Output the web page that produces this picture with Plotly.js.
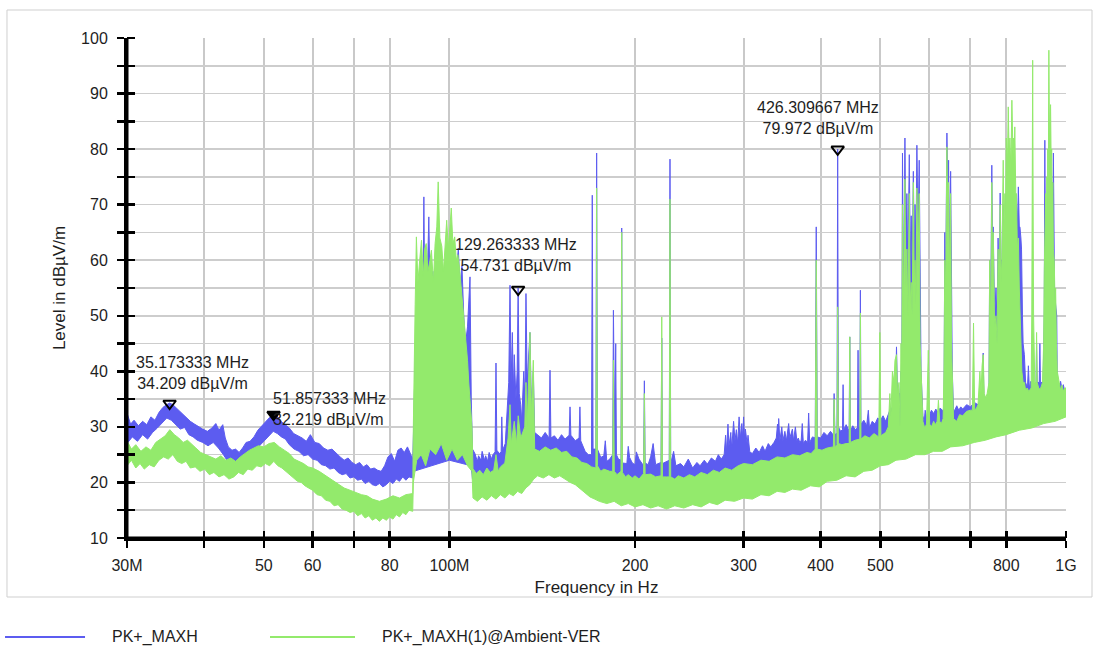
<!DOCTYPE html>
<html>
<head>
<meta charset="utf-8">
<script src="https://cdn.plot.ly/plotly-3.0.1.min.js"></script>
<style>html,body{margin:0;padding:0;background:#fff;}#chart{width:1099px;height:649px;}</style>
</head>
<body>
<div id="chart"></div>
<script>
// Frequencies in MHz, levels in dBµV/m
const blueUpper = [[30.0,32.5],[30.4,30.5],[30.8,31.2],[31.3,30.2],[31.8,31.0],[32.3,30.4],[32.8,31.8],[33.3,31.2],[33.8,32.6],[34.3,33.5],[34.8,34.0],[35.17,34.3],[35.6,34.0],[36.2,33.2],[36.8,32.5],[37.4,31.8],[38.0,31.0],[38.6,30.5],[39.2,30.0],[39.8,29.6],[40.5,29.2],[41.2,29.8],[41.8,30.6],[42.3,29.4],[42.9,30.4],[43.3,28.0],[43.8,26.4],[44.4,25.8],[45.0,26.0],[45.6,25.4],[46.2,26.2],[46.8,27.2],[47.5,27.4],[48.2,28.2],[48.9,29.4],[49.6,30.2],[50.3,30.8],[51.0,31.6],[51.86,32.3],[52.5,32.0],[53.3,31.0],[54.1,30.5],[55.0,29.8],[55.9,28.8],[56.8,28.4],[57.7,28.0],[58.6,27.4],[59.5,28.6],[60.5,27.2],[61.5,27.0],[62.5,26.2],[63.5,25.8],[64.5,26.0],[65.5,25.2],[66.5,24.6],[67.5,24.0],[68.5,24.4],[69.5,23.6],[70.5,23.2],[71.5,23.6],[72.5,22.8],[73.5,23.2],[74.5,22.4],[75.5,22.6],[76.5,22.2],[77.5,22.0],[78.5,23.0],[79.5,24.6],[80.5,25.2],[81.5,23.8],[82.5,25.8],[83.5,26.2],[84.5,25.4],[85.5,26.4],[86.5,25.0],[87.2,24.2],
[87.5,30],[88.0,40],[88.3,49.7],[88.8,38],[89.5,45],[90.1,55],[90.6,50],[90.9,71.4],[91.2,52],[92.0,55],[92.6,67.8],[93.1,52],[94.0,58],[95.0,50],[96.0,60],[97.0,52],[98.0,56],[99.0,50],[100.0,57],[101.0,55],[102.0,58],[103.0,60],[103.4,62.2],[104.0,55],[104.8,59],[105.5,50],[106.2,45],[107.0,48],[108.0,57],[108.5,35],[109.0,26],
[110,25.2],[111,23.8],[111.5,24.8],[112.5,24.0],[113,25.6],[114,24.0],[114.5,24.8],[115.3,23.8],[116,25.4],[117,24.2],[117.5,24.9],[118.6,25.5],[119.0,41.5],[119.4,25.8],[120.5,25.2],[121.3,25.5],[121.6,31.8],[122.0,25.8],[123.2,27],[124.0,34],[124.8,38],[125.4,55.5],[125.9,38],[126.5,47],[127.0,36],[127.4,43],[128.2,35],[128.8,40],[129.26,55.0],[129.8,36],[130.5,34],[131.0,31],[132.0,40],[132.6,35],[133.1,54],[133.7,38],[134.4,44],[135.1,47],[135.8,34],[136.8,40],[137.5,29],[139,28.5],[141,28],[143,29],[145.1,28],[145.6,40.2],[146.1,28],[148,28.4],[150,27.6],[152,28.6],[154,27.8],[156.4,28.5],[156.9,33.6],[157.4,28.5],[160,27.5],[162.3,28],[162.8,33.6],[163.3,27.5],[166,25.6],[168,25.0],[170.0,25.0],[170.5,71.7],[171.0,26],[172.8,26],[173.3,79.3],[173.8,26],[176,24.5],[178,24.8],[179,27.5],[180,23.8],[182,24.2],[184.0,25],[184.5,51],[185.1,35],[185.6,35],[186.1,45],[186.6,25],[188,24.2],[189.8,24],[190.3,65.8],[190.8,23.5],[194,23.4],[195,26.5],[196,24.5],[198,23.5],[200,23.2],[201,25.5],[203,24.2],[206.5,23.0],[207.1,38.3],[207.7,23.5],[210,23.2],[212,24.6],[214,27.0],[216,23.2],[220.4,23.6],[221.0,46],[221.6,23.4],[225,23.8],[227.3,24],[227.9,78.2],[228.5,23.4],[231,25.6],[233,23.0],[237,23.4],[240,22.8],[244,24.2],[248,22.6],[252,23.6],[255,23.0],[259,24.0],[262,23.3],[266,24.4],[270,23.8],[273,25.0],[276,24.2],[279,25.0],[280.5,28.5],[281.5,25.5],[283,30.5],[284,26.5],[286,29.0],[287,26.0],[289,31.0],[290.5,27.5],[292,29.5],[293.5,27],[295,31.8],[296.5,28],[298,30.6],[299,28],[300,31.8],[301,28],[302,29.6],[304,27],[305,28.5],[307,25.5],[310,25.2],[314,26.2],[318,25.4],[322,26.6],[325,25.6],[329,27.0],[332,26.4],[336,27.2],[339,28.0],[340.5,30.5],[341.5,27.5],[342,31.5],[343.5,27.5],[346,30.0],[347.5,27.5],[350,29.2],[352,27.5],[355,30.6],[356.5,28],[360,29.6],[361.5,27.5],[364,30.0],[366,27.5],[368,28.0],[370,27.2],[372,27.6],[373.5,30.6],[375,27],[378,27.6],[381,27.2],[382.5,32.5],[384,27.2],[388,28.2],[392,28],[393.5,66],[395,28.2],[400,28.0],[405,29.0],[410,28.4],[415,29.2],[419.5,28.5],[420.7,36],[422,28.5],[425.2,29],[426.3,80],[427.4,30],[431,29.2],[434,29.5],[435,37.6],[436,29.5],[440,30.4],[445,29.2],[446,46.2],[447,29.2],[451,30.2],[455,29.5],[459,29.8],[460,43.8],[461,30],[463,30],[464,54.6],[465,30.5],[470,31.2],[475,30.2],[478,33.0],[480,29.8],[485,31.0],[490,30.5],[495,31.6],[500,31.2],[505,32.0],[510,31.0],[515,32.2],[520,33.5],[525,32.4],[529,34],[531,44.4],[533,36],[538,36],[540,40],[541.5,35],[543,79.3],[544.5,60],[546,58],[548,82],[550,60],[552,72],[554,58],[557,79],[559,60],[561,68],[563,58],[565.5,76],[567.5,60],[569,70],[571,62],[573,80.7],[575.5,65],[578,78],[580,50],[582,40],[586,32],[589,31],[591,33],[595,31.2],[600,32],[605,33.0],[610,32.4],[615,33.2],[620,32.6],[625,33.4],[630,33],[634,33],[636,65],[638,55],[641,82.9],[643.5,70],[645,78],[647,60],[650,76],[652,50],[654,40],[657,33],[660,33],[665,33.8],[670,33.0],[675,33.6],[680,33.2],[690,34.0],[700,33.6],[710,34.4],[720,34],[726,34.8],[732,34],[734,43.3],[736,34.5],[740,35.4],[745,35],[750,36],[752,60],[755,50],[758,77.1],[760,62],[762,66],[766,50],[770,55],[773,48],[776,64],[779,55],[782,72.1],[785,58],[787,60],[789,54],[791,70],[795,62],[800,72],[803,64],[806,78],[809,66],[811,74],[814,68],[817,77],[820,70],[822,74],[824,68],[826,72],[829,64],[831,70],[834,66],[837,73.2],[840,66],[842,66],[845,64],[847,62],[850,50],[852,45],[856,43],[858,38],[860,38],[866,37],[869,41],[872,37],[877,38.2],[883,37.5],[890,37],[894,37],[896,45],[898,38],[905,38],[907,45],[909,38],[918,38],[920,45],[922,50],[924,81.6],[926,60],[930,55],[934,70],[938,72],[941,65],[944,70],[947,60],[950,74],[952,65],[954,79.3],[956,62],[958,55],[962,52],[966,50],[968,38],[975,37],[980,38.2],[985,36.8],[990,37.6],[995,36.5],[1000,36.5]];

const blueLower = [[30,27.0],[30.6,28.2],[31.2,27.4],[31.8,28.6],[32.4,27.8],[33.0,29.0],[33.6,29.8],[34.2,30.8],[34.8,31.6],[35.4,31.2],[36.0,30.4],[36.6,29.6],[37.2,29.9],[37.8,28.6],[38.4,28.2],[39.0,27.6],[39.8,27.2],[40.6,26.6],[41.4,27.2],[42.2,26.2],[43.0,25.0],[43.8,23.6],[44.6,23.0],[45.4,22.8],[46.2,23.4],[47.0,24.4],[47.8,25.0],[48.6,26.0],[49.4,26.8],[50.2,27.6],[51.0,28.4],[51.8,29.2],[52.6,28.8],[53.4,28.2],[54.2,27.8],[55.0,26.8],[56.0,26.0],[57.0,25.6],[58.0,24.8],[59.0,25.0],[60.0,24.2],[61.0,24.0],[62.0,23.2],[63.0,23.0],[64.0,22.4],[65.0,22.6],[66.0,21.8],[67.0,21.4],[68.0,21.6],[69.0,20.8],[70.0,21.0],[71.0,20.4],[72.0,20.6],[73.0,19.8],[74.0,20.2],[75.0,19.6],[76.0,19.4],[77.0,19.8],[78.0,19.2],[79.0,19.6],[80.0,20.2],[81.0,19.8],[82.0,20.6],[83.0,20.2],[84.0,21.0],[85.0,20.4],[86.0,21.0],[87.2,20.8],
[87.5,22],[100,24],[108.5,23],
[109,20.6],[112,21.2],[115,20.8],[118,21.6],[121,21.0],[124,21.8],[127,21.4],[130,22.0],[134,22.4],[138,23.6],[142,24.2],[146,23.8],[150,24.6],[154,24.0],[158,24.4],[162,23.2],[166,22.0],[170,21.2],[175,20.6],[180,20.8],[190,20.2],[200,20.6],[210,20.0],[220,20.4],[235,20.2],[250,20.6],[265,20.8],[280,21.4],[300,21.6],[320,22.2],[340,22.8],[360,23.2],[380,24.0],[400,24.6],[420,25.4],[440,26.0],[460,26.6],[480,27.2],[500,28.0],[530,28.8],[560,29.4],[600,30.2],[650,30.8],[700,31.4],[750,32.0],[800,32.6],[850,33.0],[900,33.6],[950,34.0],[1000,34.6]];

const greenUpper = [[30.0,27.5],[30.5,26.0],[31.0,26.8],[31.6,25.6],[32.2,26.4],[32.8,25.8],[33.4,27.2],[34.0,27.8],[34.6,28.4],[35.2,29.5],[35.8,28.6],[36.4,28.0],[37.0,27.2],[37.6,27.6],[38.2,26.8],[38.8,26.2],[39.5,25.4],[40.2,25.0],[41.0,24.6],[41.8,24.2],[42.6,24.8],[43.4,24.0],[44.2,24.4],[45.0,23.8],[45.8,24.6],[46.6,25.2],[47.4,25.8],[48.2,26.2],[49.0,26.6],[50.0,26.4],[51.0,27.0],[52.0,27.2],[53.0,26.4],[54.0,25.8],[55.0,25.2],[56.0,24.2],[57.0,23.8],[58.0,23.4],[59.0,22.8],[60.0,22.6],[61.5,22.0],[63.0,21.2],[64.5,20.4],[66.0,19.6],[67.5,19.0],[69.0,18.6],[70.5,18.2],[72.0,17.8],[73.5,17.6],[75.0,17.0],[77.0,16.6],[79.0,17.0],[81.0,17.6],[83.0,17.2],[85.0,17.8],[87.2,18.0],
[87.4,30],[87.7,45],[88.0,52],[88.4,64.2],[88.9,56],[89.5,60],[90.1,63.6],[90.7,57],[91.2,62],[91.7,63],[92.3,58],[93.0,60],[93.5,61.8],[94.2,56],[94.8,63],[95.4,66],[95.9,74.1],[96.5,64],[97.2,62.5],[97.8,58],[98.4,64],[99.0,67.2],[99.6,62],[100.2,66],[100.7,69.4],[101.3,63],[102.0,64.2],[102.6,60],[103.2,61],[103.8,58.8],[104.5,55],[105.2,52],[105.6,49.8],[106.3,46],[107.0,42],[107.5,37.9],[108.2,34],[108.8,30],[109.2,22.5],
[110.5,21.6],[112,22.2],[113.5,21.4],[115,22.6],[116.5,21.8],[118,22.2],[119.0,25],[120,22.0],[121,22.8],[123,23.5],[124.5,28],[125.4,34],[126.0,27],[127.4,31],[128.5,27],[129.3,32],[130.5,28],[132.5,30],[133.1,38],[133.7,30],[135.1,47],[135.8,32],[136.8,42],[137.5,26],[140,25.6],[143,26.4],[146,25.8],[149,26.2],[152,25.4],[155,25.6],[158,24.6],[161,24.4],[164,23.6],[167,23.4],[170,22.8],[172.8,22.6],[173.3,73],[173.8,23],[176,22.0],[178,22.4],[182,22.0],[184,22],[184.5,42],[185.1,22],[187,21.4],[189.8,22],[190.3,65],[190.8,21.8],[193,21.0],[195,21.4],[198,20.8],[200,21.2],[203,20.6],[206.5,21.6],[207.1,36],[207.7,21.4],[212,21.5],[216,21.0],[220.4,21.2],[221.0,49.8],[221.6,21],[225,21],[227.3,21],[227.9,71],[228.5,21],[232,20.6],[235,21.2],[240,20.8],[245,21.4],[250,21.0],[256,21.8],[262,21.4],[268,22.2],[274,21.8],[280,22.6],[287,22.2],[294,23.0],[300,23.4],[310,23.2],[320,24.0],[330,23.8],[340,24.6],[350,24.4],[360,25.0],[370,24.8],[380,25.4],[386,25.2],[392,26],[393.5,60],[395,26],[402,25.8],[410,26.2],[419.5,26.4],[420.7,35],[422,26.4],[425.2,26.8],[426.3,51.6],[427.4,27],[433,26.8],[440,27],[445,27],[446,46.2],[447,27.2],[455,27.6],[463,27.8],[464,50.5],[465,27.8],[472,28.4],[480,28.0],[488,28.8],[497,28.2],[499,47],[501,28.4],[510,29.0],[515,30],[518,36],[520,32],[523,40],[526,38],[528,42],[531,43],[533,36],[536,38],[538,30],[540,45],[541.5,40],[543,70],[544.5,50],[546,58],[548,74.6],[550,55],[552,62],[554,50],[557,72],[559,52],[561,56],[563,50],[565.5,74],[567.5,55],[569,60],[571,52],[573,73],[575.5,58],[578,72],[580,45],[582,40],[586,31],[590,29.8],[594,30.5],[598,43.8],[601,30.5],[605,30.0],[610,31],[614,30.4],[618,31],[621,34.8],[624,31],[628,30.6],[632,31.5],[634,40],[636,60],[638,55],[641,80.4],[643.5,65],[645,74],[647,58],[650,72],[652,45],[654,38],[657,31.5],[665,31.0],[672,32.2],[680,32],[690,32.8],[700,33],[705,33],[708,48.7],[711,33],[716,33.4],[720,34],[725,40],[728,36],[731,41],[734,43],[737,36],[741,35.2],[745,36],[750,38],[752,60],[755,48],[758,74],[760,58],[762,65],[766,48],[770,50],[773,45],[776,62],[779,52],[782,70],[785,56],[787,60],[789,68],[791,78],[793,66],[796,72],[798,68],[800,82],[803,75],[806,87.6],[809,78],[811,82],[814,76],[817,88.8],[820,80],[822,82],[824,78],[826,84],[829,72],[831,72],[834,62],[837,64],[840,55],[842,50],[845,44],[848,40],[852,38],[856,38],[860,36.6],[865,37],[870,36.4],[878,37],[880,50],[881.5,70],[883,96],[884.5,70],[886,50],[890,38],[894,38],[896,47],[898,38],[904,36.8],[910,37],[916,38],[920,45],[922,58],[925,66],[927,72],[929,62],[931,75],[933,70],[934,80],[936,72],[938,97.8],[940,82],[941,78],[942,85],[944,88],[946,78],[948,80],[950,70],[952,74],[954,62],[957,60],[960,52],[962,55],[965,45],[968,40],[975,38],[980,36.6],[985,37.5],[990,36.4],[995,37],[1000,37]];

const greenLower = [[30,23.0],[30.5,24.0],[31.0,22.6],[31.5,23.4],[32.0,22.4],[32.6,23.2],[33.2,22.8],[33.8,24.0],[34.4,24.6],[35.0,24.2],[35.6,25.0],[36.2,23.8],[36.8,23.4],[37.4,23.8],[38.0,22.6],[38.7,22.8],[39.4,22.0],[40.1,22.4],[40.8,21.4],[41.5,21.8],[42.3,21.0],[43.1,21.4],[43.9,20.6],[44.7,21.0],[45.5,21.8],[46.3,21.4],[47.1,22.4],[47.9,22.2],[48.7,23.0],[49.5,22.8],[50.3,23.4],[51.1,23.0],[51.9,23.8],[52.7,23.0],[53.5,22.6],[54.3,22.0],[55.1,21.4],[55.9,20.8],[56.7,20.2],[57.5,20.0],[58.3,19.4],[59.1,19.0],[60.0,18.6],[61.0,17.8],[62.0,17.6],[63.0,16.8],[64.0,16.6],[65.0,15.8],[66.0,16.0],[67.0,15.2],[68.0,15.0],[69.0,14.6],[70.0,14.8],[71.0,14.0],[72.0,14.4],[73.0,13.6],[74.0,14.0],[75.0,13.2],[76.0,13.6],[77.0,13.0],[78.0,13.6],[79.0,13.2],[80.0,13.8],[81.0,13.4],[82.0,14.2],[83.0,13.8],[84.0,14.6],[85.0,14.2],[86.0,15.0],[87.2,14.8],
[87.4,20],[88.5,24],[90,25],[91.5,23],[93,26],[95,25],[97,27],[99,24],[101,26],[103,24],[105,25],[107,23],[108.8,22],
[109.2,17.2],[111,16.6],[113,17.4],[115,16.8],[117,17.6],[119,17.0],[121,17.8],[123,17.2],[125,18.0],[127,17.6],[129,18.4],[131,18.0],[133,19.0],[135,19.6],[137,20.6],[139,21.2],[142,20.8],[145,21.4],[148,20.8],[151,21.2],[154,20.6],[157,20.0],[160,19.6],[163,18.8],[166,18.0],[169,17.4],[172,17.0],[175,16.6],[180,16.2],[185,16.6],[190,15.8],[195,16.2],[200,15.6],[206,16.0],[212,15.4],[218,15.8],[225,15.2],[232,15.8],[240,15.4],[248,16.0],[256,15.6],[264,16.4],[272,16.0],[280,16.8],[290,16.6],[300,17.2],[310,17.0],[320,17.8],[330,17.6],[340,18.4],[350,18.2],[360,18.8],[372,18.6],[385,19.4],[398,19.2],[410,20.2],[425,20.4],[440,21.2],[455,21.0],[470,22.0],[485,22.2],[500,23.0],[515,23.2],[530,24.0],[550,24.2],[570,25.0],[590,25.0],[610,25.6],[630,25.6],[650,26.4],[680,26.6],[710,27.2],[740,27.6],[770,28.2],[800,28.6],[840,29.4],[880,29.8],[920,30.6],[960,31.0],[1000,31.8]];

const markerFreq = [35.173333, 51.857333, 129.263333, 426.309667];
const markerLevel = [34.209, 32.219, 54.731, 79.972];

const xTickVals = [30,40,50,60,70,80,100,200,300,400,500,600,700,800,1000];
const xTickText = ['30M','','50','60','','80','100M','200','300','400','500','','','800','1G'];
const yTickVals = [10,15,20,25,30,35,40,45,50,55,60,65,70,75,80,85,90,95,100];
const yTickText = ['10','','20','','30','','40','','50','','60','','70','','80','','90','','100'];

const seriesNames = ['PK+_MAXH', 'PK+_MAXH(1)@Ambient-VER'];
const BLUE = '#5c5cf0';
const GREEN = '#93ea6c';
const FONT = 'Liberation Sans, Arial, Helvetica, sans-serif';

function xs(a){return a.map(p=>p[0]);}
function ys(a){return a.map(p=>p[1]);}

const traces = [
  {x: xs(blueLower), y: ys(blueLower), mode:'lines', line:{color:BLUE,width:1}, hoverinfo:'skip', showlegend:false},
  {x: xs(blueUpper), y: ys(blueUpper), mode:'lines', line:{color:BLUE,width:1}, fill:'tonexty', fillcolor:BLUE, hoverinfo:'skip', showlegend:false, name:seriesNames[0]},
  {x: xs(greenLower), y: ys(greenLower), mode:'lines', line:{color:GREEN,width:1}, hoverinfo:'skip', showlegend:false},
  {x: xs(greenUpper), y: ys(greenUpper), mode:'lines', line:{color:GREEN,width:1}, fill:'tonexty', fillcolor:GREEN, hoverinfo:'skip', showlegend:false, name:seriesNames[1]},
  {x: markerFreq, y: markerLevel, mode:'markers', showlegend:false, hoverinfo:'skip', cliponaxis:false,
   marker:{symbol:['triangle-down-open','triangle-down','triangle-down-open','triangle-down-open'], size:11, color:'#000', line:{color:'#000', width:2}}}
];

// label placement (styling only)
const annStyle = [
  {xanchor:'center', yanchor:'bottom', xshift:23, yshift:10},
  {xanchor:'left', yanchor:'middle', xshift:-3, yshift:6},
  {xanchor:'center', yanchor:'bottom', xshift:-2, yshift:13},
  {xanchor:'center', yanchor:'bottom', xshift:-20, yshift:10}
];
const annotations = markerFreq.map((f,i)=>Object.assign({
  x: Math.log10(f), y: markerLevel[i], xref:'x', yref:'y', showarrow:false,
  text: f.toFixed(6)+' MHz<br>'+markerLevel[i].toFixed(3)+' dBµV/m',
  align: annStyle[i].xanchor==='left'?'left':'center',
  font:{family:FONT, size:16, color:'#1e1e1e'}
}, annStyle[i]));

// custom legend
const legX = [[-0.1299,-0.0447,-0.0181],[0.1523,0.2428,0.2694]];
const legY = -0.198;
const shapes = [
  {type:'rect', xref:'paper', yref:'paper', x0:-0.1278, x1:1.0277, y0:-0.118, y1:1.056, line:{color:'#cfcfcf', width:1}, layer:'below'},
  {type:'line', xref:'paper', yref:'paper', x0:legX[0][0], x1:legX[0][1], y0:legY, y1:legY, line:{color:BLUE,width:2}},
  {type:'line', xref:'paper', yref:'paper', x0:legX[1][0], x1:legX[1][1], y0:legY, y1:legY, line:{color:GREEN,width:2}},
  // axis lines
  {type:'line', xref:'paper', yref:'paper', x0:0, x1:0, y0:-0.003, y1:1, line:{color:'#000',width:3}, layer:'above'},
  {type:'line', xref:'paper', yref:'paper', x0:-0.0016, x1:1, y0:0, y1:0, line:{color:'#000',width:3}, layer:'above'}
];
seriesNames.forEach((n,i)=>annotations.push({xref:'paper', yref:'paper', x:legX[i][2], y:legY, xanchor:'left', yanchor:'middle', showarrow:false, text:n, font:{family:FONT,size:16,color:'#1e1e1e'}}));

const axisCommon = {showline:true, linecolor:'#000', linewidth:3, ticks:'outside', ticklen:7, tickwidth:2.5, tickcolor:'#000', zeroline:false,
  tickfont:{family:FONT, size:16, color:'#1e1e1e'}, layer:'above traces'};

const layout = {
  width:1099, height:649,
  margin:{l:127, r:33, t:38, b:111},
  paper_bgcolor:'#fff', plot_bgcolor:'#fff',
  font:{family:FONT},
  showlegend:false,
  xaxis: Object.assign({}, axisCommon, {type:'log', range:[Math.log10(30), 3], tickmode:'array', tickvals:xTickVals, ticktext:xTickText,
    showgrid:true, gridcolor:'#c9c9c9', gridwidth:2, ticklabelstandoff:4,
    minor:{tickmode:'array', tickvals:xTickVals.map(v=>v*1.0001), ticks:'inside', ticklen:7, tickwidth:2.5, tickcolor:'#000', showgrid:false},
    title:{text:'Frequency in Hz', font:{family:FONT,size:17,color:'#1e1e1e'}, standoff:8}}),
  yaxis: Object.assign({}, axisCommon, {range:[10,100], tickmode:'array', tickvals:yTickVals, ticktext:yTickText,
    showgrid:true, gridcolor:'#cdcdcd', gridwidth:1.5, ticklabelstandoff:6,
    minor:{tickmode:'array', tickvals:yTickVals.map(v=>v+0.001), ticks:'inside', ticklen:8, tickwidth:2.5, tickcolor:'#000', showgrid:false},
    title:{text:'Level in dBµV/m', font:{family:FONT,size:17,color:'#1e1e1e'}, standoff:12}}),
  annotations: annotations,
  shapes: shapes
};

Plotly.newPlot('chart', traces, layout, {displayModeBar:false, staticPlot:true});
</script>
</body>
</html>
